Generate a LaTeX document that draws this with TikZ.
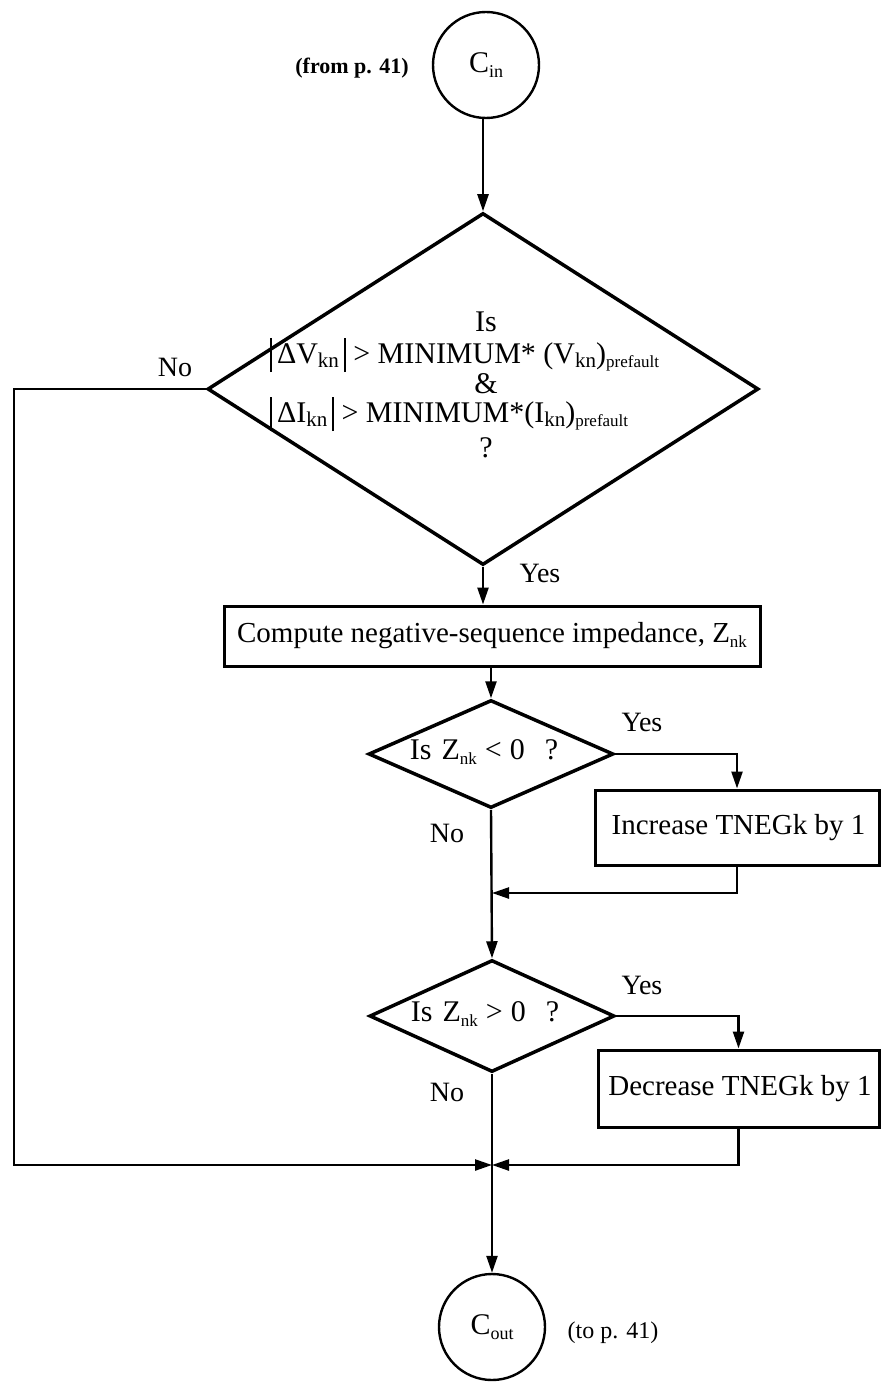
\documentclass[tikz,border=0pt]{standalone}
\usepackage{fontspec}
\setmainfont{Liberation Serif}
\usetikzlibrary{shapes.geometric,arrows.meta}
\newcommand\mysub[2]{\raisebox{-0.35ex}{\fontsize{#1}{#1}\selectfont #2}}
\newcommand\absbar{\rule[-9pt]{1.8pt}{34pt}}
\begin{document}
\begin{tikzpicture}[x=1pt,y=-1pt,
  every node/.style={inner sep=0pt},
  flow/.style={line width=2.4pt,-{Triangle[length=17pt,width=11pt]}},
  dia/.style={diamond,draw,line width=3.5pt,inner sep=0pt},
  boxnode/.style={rectangle,draw,line width=3pt,inner sep=0pt,font=\fontsize{29}{34}\selectfont},
  conn/.style={circle,draw,line width=2.4pt,minimum size=106pt,inner sep=0pt,font=\fontsize{30}{34}\selectfont},
  lbl/.style={font=\fontsize{28}{34}\selectfont},
  big/.style={font=\fontsize{30}{34}\selectfont},
  qtext/.style={font=\fontsize{30}{34}\selectfont}]
\useasboundingbox (0,0) rectangle (880,1388);
\fill[white] (0,0) rectangle (880,1388);

% nodes
\node[conn] (cin) at (486,65) {C\mysub{18}{in}};
\node[font=\fontsize{22}{26}\selectfont\bfseries] (from) at (352,68) {(from p. 41)};

\node[dia,minimum width=551pt,minimum height=352pt] (d1) at (483,389) {};
\node[big] (t1) at (486,322) {Is};
\node[big,anchor=west] (t2) at (270,355) {\absbar\,ΔV\mysub{21}{kn}\,\absbar\ > MINIMUM* (V\mysub{21}{kn})\mysub{17}{prefault}};
\node[big] (t3) at (486,384) {\&};
\node[big,anchor=west] (t4) at (270,414) {\absbar\,ΔI\mysub{21}{kn}\,\absbar\ > MINIMUM*(I\mysub{21}{kn})\mysub{17}{prefault}};
\node[big] (t5) at (486,448) {?};
\node[lbl] (no1) at (175,367) {No};
\node[lbl] (yes1) at (540,573) {Yes};

\node[boxnode,minimum width=536pt,minimum height=60pt] (r1) at (492,636) {Compute negative-sequence impedance, Z\mysub{17}{nk}};

\node[dia,minimum width=245pt,minimum height=108pt] (d2) at (491,754) {};
\node[qtext] (q2) at (484,752) {Is\hspace{10pt}Z\mysub{17}{nk}\hspace{8pt}<\hspace{8pt}0\hspace{20pt}?};
\node[lbl] (yes2) at (642,722) {Yes};
\node[lbl] (no2) at (447,833) {No};
\node[boxnode,minimum width=284pt,minimum height=75pt] (r2) at (737,827.5) {\hspace{3pt}Increase TNEGk by 1};

\node[dia,minimum width=245pt,minimum height=112pt] (d3) at (492,1016) {};
\node[qtext] (q3) at (485,1014) {Is\hspace{10pt}Z\mysub{17}{nk}\hspace{8pt}>\hspace{8pt}0\hspace{20pt}?};
\node[lbl] (yes3) at (642,985) {Yes};
\node[lbl] (no3) at (447,1092) {No};
\node[boxnode,minimum width=281pt,minimum height=77pt] (r3) at (738.5,1088.5) {\hspace{3pt}Decrease TNEGk by 1};

\node[conn] (cout) at (492,1327) {C\mysub{18}{out}};
\node[font=\fontsize{24}{28}\selectfont] (to) at (613,1333) {(to p. 41)};

\coordinate (J) at (492,1165);
\coordinate (lc) at (14,1165);
\coordinate (m1) at (492,893);

% connectors
\draw[flow] (cin.south -| d1.north) -- (d1.north);
\draw[flow] (d1.west) -| (lc) -- (J);
\draw[flow] (d1.south) -- (d1.south |- r1.north);
\draw[flow] (d2.north |- r1.south) -- (d2.north);
\draw[flow] (d2.east) -| (r2.north);
\draw[flow] (d2.south) -- (d3.north);
\draw[flow] (r2.south) |- (m1);
\draw[flow] (d3.east) -| (r3.north);
\draw[flow] (r3.south) |- (J);
\draw[flow] (d3.south) -- (cout.north);
\end{tikzpicture}
\end{document}
